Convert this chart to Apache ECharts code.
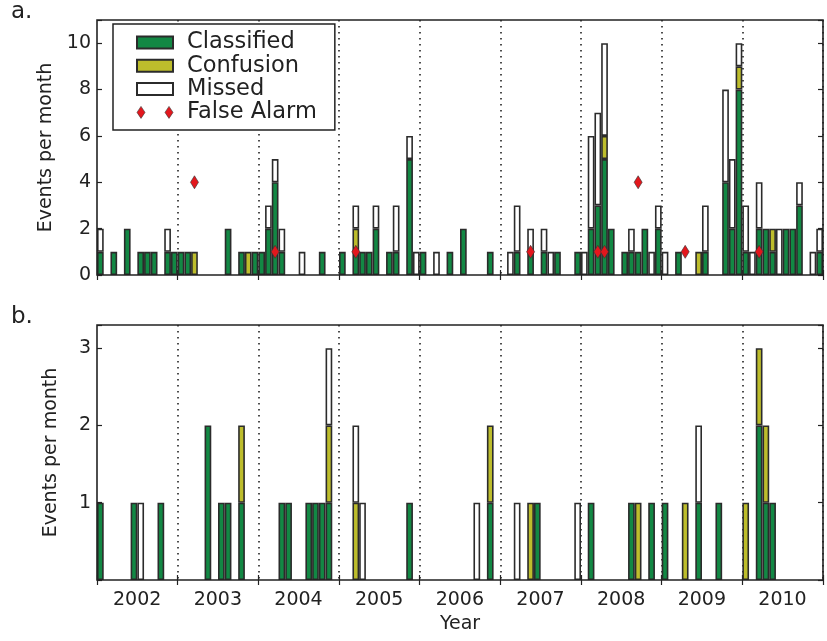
<!DOCTYPE html>
<html>
<head>
<meta charset="utf-8">
<script src="https://cdn.jsdelivr.net/npm/echarts@6/dist/echarts.min.js"></script>
<style>
  html, body { margin: 0; padding: 0; background: #fff; }
  #chart { width: 827px; height: 641px; }
</style>
</head>
<body>
<div id="chart"></div>
<script>
const years = [2002, 2003, 2004, 2005, 2006, 2007, 2008, 2009, 2010];

// one row per year, Jan..Dec
const aClassified = [
  1,0,1,0,2,0,1,1,1,0,1,1,
  1,1,0,0,0,0,0,2,0,1,0,1,
  1,2,4,1,0,0,0,0,0,1,0,0,
  1,0,1,1,1,2,0,1,1,0,5,0,
  1,0,0,0,1,0,2,0,0,0,1,0,
  0,0,1,0,1,0,1,0,1,0,0,1,
  0,2,3,5,2,0,1,1,1,2,0,2,
  0,0,1,0,0,0,1,0,0,4,2,8,
  1,0,2,2,1,0,2,2,3,0,0,1
];
const aConfusion = [
  0,0,0,0,0,0,0,0,0,0,0,0,
  0,0,1,0,0,0,0,0,0,0,1,0,
  0,0,0,0,0,0,0,0,0,0,0,0,
  0,0,1,0,0,0,0,0,0,0,0,0,
  0,0,0,0,0,0,0,0,0,0,0,0,
  0,0,0,0,0,0,0,0,0,0,0,0,
  0,0,0,1,0,0,0,0,0,0,0,0,
  0,0,0,0,0,1,0,0,0,0,0,1,
  0,0,0,0,1,0,0,0,0,0,0,0
];
const aMissed = [
  1,0,0,0,0,0,0,0,0,0,1,0,
  0,0,0,0,0,0,0,0,0,0,0,0,
  0,1,1,1,0,0,1,0,0,0,0,0,
  0,0,1,0,0,1,0,0,2,0,1,1,
  0,0,1,0,0,0,0,0,0,0,0,0,
  0,1,2,0,1,0,1,1,0,0,0,0,
  1,4,4,4,0,0,0,1,0,0,1,1,
  1,0,0,0,0,0,2,0,0,4,3,1,
  2,1,2,0,0,2,0,0,1,0,1,1
];
// [month index from Jan 2002, count]
const aFalseAlarm = [[14, 4], [26, 1], [38, 1], [64, 1], [74, 1], [75, 1], [80, 4], [87, 1], [98, 1]];

const bClassified = [
  1,0,0,0,0,1,0,0,0,1,0,0,
  0,0,0,0,2,0,1,1,0,1,0,0,
  0,0,0,1,1,0,0,1,1,1,1,0,
  0,0,0,0,0,0,0,0,0,0,1,0,
  0,0,0,0,0,0,0,0,0,0,1,0,
  0,0,0,0,0,1,0,0,0,0,0,0,
  0,1,0,0,0,0,0,1,0,0,1,0,
  1,0,0,0,0,1,0,0,1,0,0,0,
  0,0,2,1,1,0,0,0,0,0,0,0
];
const bConfusion = [
  0,0,0,0,0,0,0,0,0,0,0,0,
  0,0,0,0,0,0,0,0,0,1,0,0,
  0,0,0,0,0,0,0,0,0,0,1,0,
  0,0,1,0,0,0,0,0,0,0,0,0,
  0,0,0,0,0,0,0,0,0,0,1,0,
  0,0,0,0,1,0,0,0,0,0,0,0,
  0,0,0,0,0,0,0,0,1,0,0,0,
  0,0,0,1,0,0,0,0,0,0,0,0,
  1,0,1,1,0,0,0,0,0,0,0,0
];
const bMissed = [
  0,0,0,0,0,0,1,0,0,0,0,0,
  0,0,0,0,0,0,0,0,0,0,0,0,
  0,0,0,0,0,0,0,0,0,0,1,0,
  0,0,1,1,0,0,0,0,0,0,0,0,
  0,0,0,0,0,0,0,0,1,0,0,0,
  0,0,1,0,0,0,0,0,0,0,0,1,
  0,0,0,0,0,0,0,0,0,0,0,0,
  0,0,0,0,0,1,0,0,0,0,0,0,
  0,0,0,0,0,0,0,0,0,0,0,0
];

const months = [];
years.forEach(y => {
  for (let m = 1; m <= 12; m++) months.push(y + '-' + (m < 10 ? '0' + m : m));
});

const FONT = 'DejaVu Sans';
const INK = '#222';
const GREEN = '#128844';
const YELLOW = '#bdbd2c';
const RED = '#e3171d';

const nz = arr => arr.map(v => (v === 0 ? '-' : v));

const grids = [
  { left: 97, right: 4, top: 20, height: 255 },
  { left: 97, right: 4, top: 325, height: 255 }
];

function xAxes(g, withLabels) {
  const tick = {
    show: true, inside: true, length: 5,
    interval: i => i % 12 === 0,
    lineStyle: { color: INK, width: 1.2 }
  };
  return [
    {
      type: 'category', gridIndex: g, position: 'bottom', data: months, boundaryGap: true,
      axisLine: { show: false },
      axisTick: tick,
      axisLabel: withLabels ? {
        interval: i => i % 12 === 6,
        formatter: v => v.slice(0, 4),
        fontSize: 19, fontFamily: FONT, color: INK, margin: 11,
        padding: [0, 7, 0, 0]
      } : { show: false },
      splitLine: {
        show: true,
        interval: i => i > 0 && i % 12 === 0,
        lineStyle: { color: INK, width: 1.6, type: [1.6, 4.4] }
      },
      name: withLabels ? 'Year' : '',
      nameLocation: 'middle', nameGap: 35,
      nameTextStyle: { fontSize: 19, fontFamily: FONT, color: INK }
    },
    {
      type: 'category', gridIndex: g, position: 'top', data: months, boundaryGap: true,
      axisLine: { show: false }, axisTick: tick, axisLabel: { show: false }, splitLine: { show: false }
    }
  ];
}

function yAxes(g, max, fmt) {
  const tick = { show: true, inside: true, length: 5, lineStyle: { color: INK, width: 1.2 } };
  return [
    {
      type: 'value', gridIndex: g, position: 'left', min: 0, max: max, interval: g === 0 ? 2 : 1,
      axisLine: { show: false }, axisTick: tick, splitLine: { show: false },
      axisLabel: { formatter: fmt, fontSize: 19, fontFamily: FONT, color: INK, margin: 6 },
      name: 'Events per month', nameLocation: 'middle', nameGap: 36,
      nameTextStyle: { fontSize: 19, fontFamily: FONT, color: INK }
    },
    {
      type: 'value', gridIndex: g, position: 'right', min: 0, max: max, interval: g === 0 ? 2 : 1,
      axisLine: { show: false }, axisTick: tick, splitLine: { show: false }, axisLabel: { show: false }
    }
  ];
}

const barEdge = { borderColor: '#2b2b2b', borderWidth: 1.6 };

function bars(g, c, f, m) {
  const base = {
    type: 'bar', stack: 'p' + g, xAxisIndex: g * 2, yAxisIndex: g * 2,
    barWidth: '100%', barCategoryGap: '0%', barGap: '0%', silent: true
  };
  return [
    Object.assign({}, base, { name: 'Classified', data: nz(c), itemStyle: Object.assign({ color: GREEN }, barEdge) }),
    Object.assign({}, base, { name: 'Confusion', data: nz(f), itemStyle: Object.assign({ color: YELLOW }, barEdge) }),
    Object.assign({}, base, { name: 'Missed', data: nz(m), itemStyle: Object.assign({ color: '#ffffff' }, barEdge) })
  ];
}

const chart = echarts.init(document.getElementById('chart'), null, { renderer: 'canvas' });

chart.setOption({
  animation: false,
  backgroundColor: '#fff',
  textStyle: { fontFamily: FONT },
  grid: grids.map(g => Object.assign({ show: true, borderColor: INK, borderWidth: 1.6, backgroundColor: 'transparent', z: 5 }, g)),
  xAxis: xAxes(0, false).concat(xAxes(1, true)),
  yAxis: yAxes(0, 11, v => (v <= 10 ? String(v) : '')).concat(
         yAxes(1, 3.3, v => (v >= 1 && v <= 3 ? String(v) : ''))),
  legend: {
    orient: 'vertical', left: 113, top: 24,
    padding: [7, 18, 6, 23], itemGap: 0.3, itemWidth: 36, itemHeight: 12,
    symbolKeepAspect: false,
    backgroundColor: '#fff', borderColor: INK, borderWidth: 1.5, borderRadius: 0,
    textStyle: { fontSize: 22.5, fontFamily: FONT, color: INK, lineHeight: 22, padding: [0, 0, 0, 9] },
    data: [
      { name: 'Classified', icon: 'rect' },
      { name: 'Confusion', icon: 'rect' },
      { name: 'Missed', icon: 'rect' },
      {
        name: 'False Alarm',
        icon: 'path://M0,6.5 L4,0 L8,6.5 L4,13 Z M28,6.5 L32,0 L36,6.5 L32,13 Z',
        itemStyle: { color: RED, borderColor: '#333', borderWidth: 0.6 }
      }
    ],
    selectedMode: false
  },
  graphic: [
    { type: 'text', left: 11, top: 1, style: { text: 'a.', font: '23px "DejaVu Sans"', fill: INK } },
    { type: 'text', left: 11, top: 306, style: { text: 'b.', font: '23px "DejaVu Sans"', fill: INK } }
  ],
  series: bars(0, aClassified, aConfusion, aMissed).concat(
    bars(1, bClassified, bConfusion, bMissed),
    [{
      name: 'False Alarm', type: 'scatter', xAxisIndex: 0, yAxisIndex: 0,
      symbol: 'diamond', symbolSize: [8, 13], z: 10,
      itemStyle: { color: RED, borderColor: '#333', borderWidth: 0.6, opacity: 1 },
      data: aFalseAlarm
    }]
  )
});
</script>
</body>
</html>
